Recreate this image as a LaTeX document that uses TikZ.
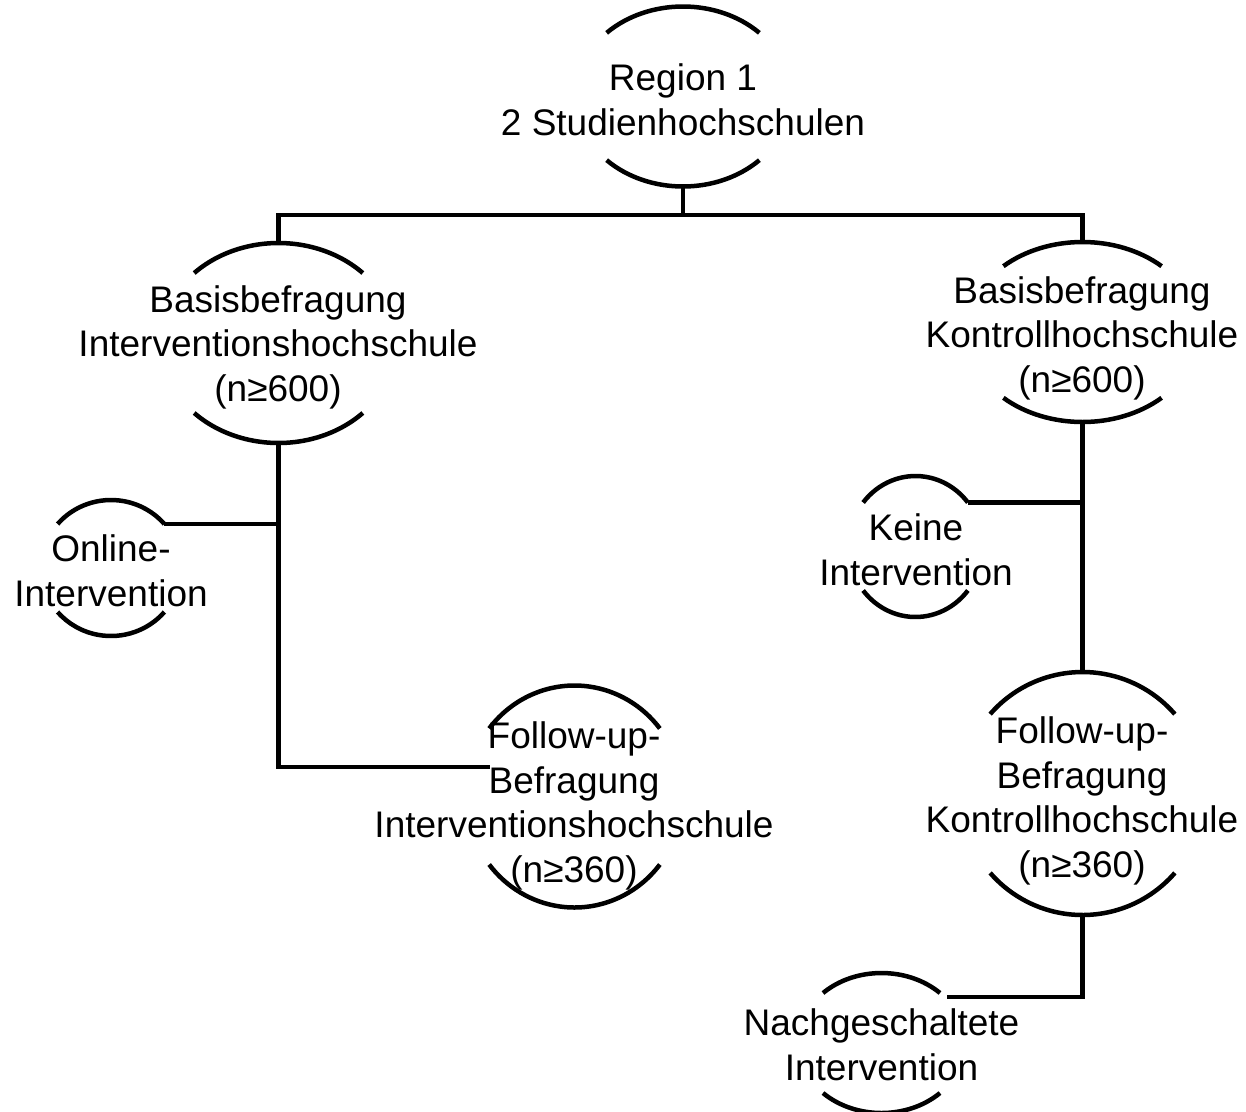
\documentclass[tikz,border=0pt]{standalone}
\usepackage{fontspec}
\setmainfont{Liberation Sans}
\tikzset{
  conn/.style={line width=4.5pt},
  arcline/.style={line width=4.5pt},
  lbl/.style={align=center, inner sep=0pt, font=\fontsize{37}{44.5}\selectfont}
}
\newcommand\ellarcs[6]{%
  \coordinate (#1-c) at (#2,#3);
  \draw[arcline] ([shift={(#6:#4 and #5)}]#1-c) arc[start angle=#6, end angle=180-#6, x radius=#4, y radius=#5];
  \draw[arcline] ([shift={(180+#6:#4 and #5)}]#1-c) arc[start angle=180+#6, end angle=360-#6, x radius=#4, y radius=#5];
  \coordinate (#1-n) at ([shift={(0,-#5)}]#1-c);
  \coordinate (#1-s) at ([shift={(0,#5)}]#1-c);
  \coordinate (#1-ne) at ([shift={(-#6:#4 and #5)}]#1-c);
}
\begin{document}
\begin{tikzpicture}[x=1pt,y=-1pt]
\useasboundingbox (0,0) rectangle (1246,1111);

\ellarcs{R}{683}{96.5}{108}{90}{45}
\node[lbl] (R) at (683,100) {Region 1\\2 Studienhochschulen};

\ellarcs{A}{278.5}{343}{118}{100}{44.4}
\node[lbl] (A) at (278,347) {Basisbefragung\\Interventionshochschule\\(n≥600)};

\ellarcs{B}{1082.5}{332}{116}{90}{47}
\node[lbl] (B) at (1082,338) {Basisbefragung\\Kontrollhochschule\\(n≥600)};

\ellarcs{O}{111}{568}{70}{68}{40.3}
\node[lbl] (O) at (111,571) {Online-\\Intervention};

\ellarcs{K}{915.5}{546.5}{67}{70.5}{38.6}
\node[lbl] (K) at (916,550) {Keine\\Intervention};

\ellarcs{C}{574.5}{796.5}{108}{111}{37.8}
\node[lbl] (C) at (574,806) {Follow-up-\\Befragung\\Interventionshochschule\\(n≥360)};

\ellarcs{D}{1082.5}{793.5}{122}{121.5}{40.8}
\node[lbl] (D) at (1082,801) {Follow-up-\\Befragung\\Kontrollhochschule\\(n≥360)};

\ellarcs{N}{881.5}{1043}{83.6}{70}{45.6}
\node[lbl] (N) at (881.5,1045) {Nachgeschaltete\\Intervention};

\coordinate (bus) at (683,215);
\coordinate (Cin) at (490,767);
\coordinate (Nin) at (947,997);

\draw[conn] (A-n) |- (bus) -| (B-n);
\draw[conn] (R-s) -- (bus);
\draw[conn] (A-s) |- (Cin);
\draw[conn] (O-ne) -- (O-ne -| A-s);
\draw[conn] (K-ne) -- (K-ne -| B-s);
\draw[conn] (B-s) -- (D-n);
\draw[conn] (D-s) |- (Nin);
\end{tikzpicture}
\end{document}
